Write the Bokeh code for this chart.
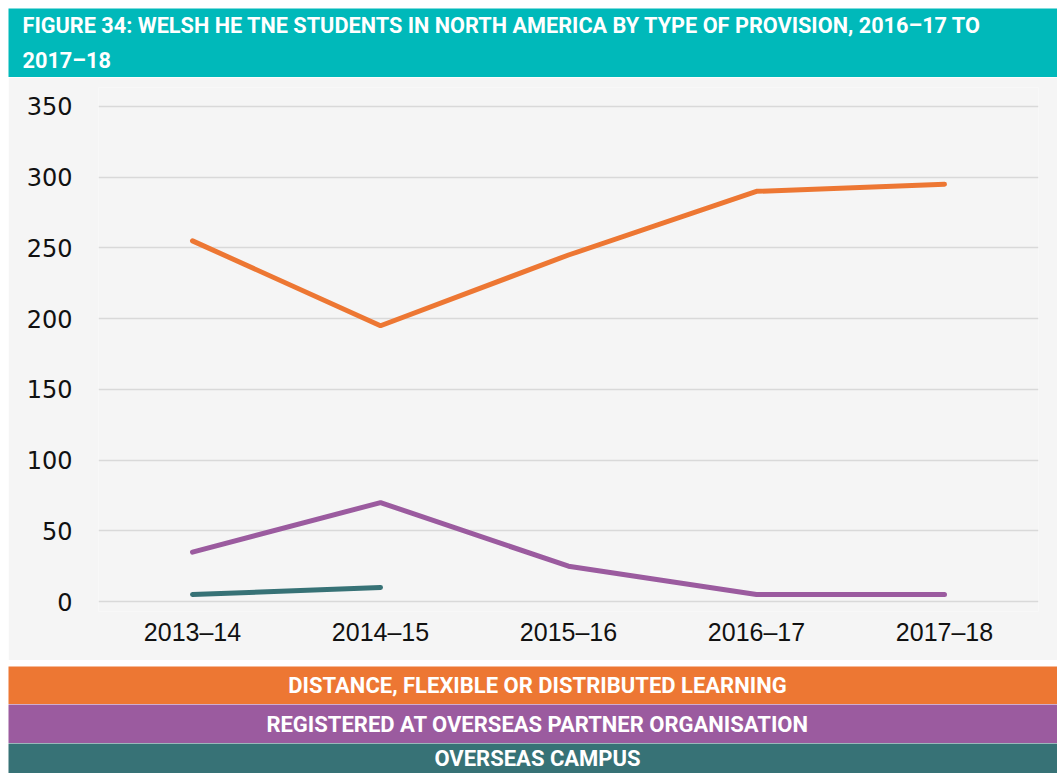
from bokeh.plotting import figure
from bokeh.layouts import column, Spacer
from bokeh.models import Range1d, FactorRange, FixedTicker, Label
from bokeh.embed import file_html
from bokeh.resources import INLINE

# ---- data ----
years = ["2013\u201314", "2014\u201315", "2015\u201316", "2016\u201317", "2017\u201318"]
distance = [255, 195, 245, 290, 295]
partner = [35, 70, 25, 5, 5]
campus = [5, 10, float("nan"), float("nan"), float("nan")]
series_names = ["DISTANCE, FLEXIBLE OR DISTRIBUTED LEARNING",
                "REGISTERED AT OVERSEAS PARTNER ORGANISATION",
                "OVERSEAS CAMPUS"]
series_colors = ["#ED7733", "#9B5B9F", "#377276"]
y_ticks = [0, 50, 100, 150, 200, 250, 300, 350]
title_text = ("FIGURE 34: WELSH HE TNE STUDENTS IN NORTH AMERICA BY TYPE OF PROVISION, 2016\u201317 TO"
              "\n2017\u201318")

W = 1049
BANNER = "#00B9BA"
BG = "#F5F5F5"
COND = "Roboto"


def strip(height, color):
    f = figure(width=W, height=height, x_range=Range1d(0, 1), y_range=Range1d(0, 1),
               output_backend="svg", toolbar_location=None,
               x_axis_location=None, y_axis_location=None,
               min_border=0, frame_align=False,
               background_fill_color=color, border_fill_color=color,
               outline_line_color=None)
    f.xgrid.visible = False
    f.ygrid.visible = False
    return f


# ---- banner ----
banner = strip(69, BANNER)
banner.add_layout(Label(x=14, y=35, x_units="screen", y_units="screen", text=title_text,
                        text_color="white", text_font=COND, text_font_style="bold",
                        text_font_size="21.7px", text_baseline="middle", text_align="left",
                        text_line_height=1.4))

# ---- main chart ----
p = figure(width=W, height=583, x_range=FactorRange(*years, range_padding=0),
           y_range=Range1d(-7, 363.4), output_backend="svg", toolbar_location=None,
           background_fill_color=BG, border_fill_color=BG, outline_line_color=None,
           frame_align=False,
           min_border_left=90, min_border_right=19, min_border_top=10, min_border_bottom=49)

all_series = [distance, partner, campus]
for vals, col in zip(all_series, series_colors):
    p.line(x=years, y=vals, line_color=col, line_width=5, line_cap="round")

p.xgrid.visible = False
p.ygrid.grid_line_color = "#D9D9D9"
p.ygrid.grid_line_width = 1.5
p.yaxis.ticker = FixedTicker(ticks=y_ticks)
for ax in (p.xaxis[0], p.yaxis[0]):
    ax.axis_line_color = None
    ax.major_tick_line_color = None
    ax.minor_tick_line_color = None
    ax.major_label_text_color = "#111111"
p.yaxis.major_label_text_font = "DejaVu Sans"
p.yaxis.major_label_text_font_size = "24px"
p.yaxis.major_label_standoff = 20
p.xaxis.major_label_text_font = "Liberation Sans"
p.xaxis.major_label_text_font_size = "25px"
p.xaxis.major_label_standoff = 0

# ---- legend bars (one strip per series) ----
row_heights = [38, 39, 30]
strips = []
for name, col, h in zip(series_names, series_colors, row_heights):
    s = strip(h, col)
    s.add_layout(Label(x=529, y=19 if h >= 38 else 15, x_units="screen", y_units="screen",
                       text=name, text_color="white", text_font=COND, text_font_style="bold",
                       text_font_size="22px", text_align="center", text_baseline="middle"))
    strips.append(s)

layout = column(banner, p, Spacer(height=6, width=W), *strips, spacing=0,
                margin=(8, 0, 0, 8))
open("out.html", "w").write(file_html(layout, INLINE))
